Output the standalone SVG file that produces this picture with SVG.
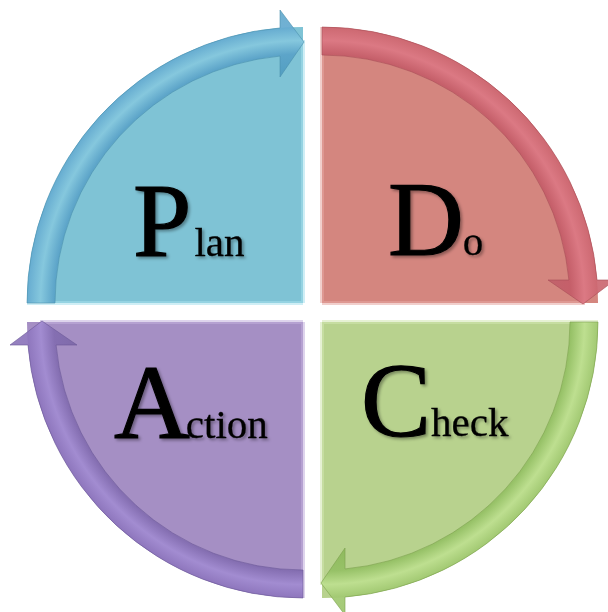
<svg xmlns="http://www.w3.org/2000/svg" width="608" height="612" viewBox="0 0 608 612">
  <style>
    .big { font-family: "Liberation Serif", "Times New Roman", serif; font-size: 105px; fill: #000; stroke: #000; stroke-width: 1.2; }
    .small { font-family: "Liberation Serif", "Times New Roman", serif; font-size: 41px; fill: #000; stroke: #000; stroke-width: 0.3; }
    .lbl { filter: url(#shadow); }
    .band { stroke-width: 1; stroke-opacity: 0.6; }
    .bevel { fill: none; stroke-width: 4; stroke-opacity: 0.55; }
  </style>
  <defs>
    <filter id="shadow" x="-20%" y="-20%" width="140%" height="140%">
      <feDropShadow dx="2" dy="2" stdDeviation="1.6" flood-color="#000" flood-opacity="0.35"/>
    </filter>
    <radialGradient id="gPlan" gradientUnits="userSpaceOnUse" cx="303" cy="303" r="300">
      <stop offset="0.76" stop-color="#4f9cc0"/>
      <stop offset="0.83" stop-color="#5aa2c8"/>
      <stop offset="0.875" stop-color="#86c8de"/>
      <stop offset="0.92" stop-color="#64aad0"/>
      <stop offset="0.99" stop-color="#64aacc"/>
    </radialGradient>
    <radialGradient id="gDo" gradientUnits="userSpaceOnUse" cx="303" cy="303" r="300">
      <stop offset="0.76" stop-color="#c0606a"/>
      <stop offset="0.83" stop-color="#c45c68"/>
      <stop offset="0.875" stop-color="#dc7884"/>
      <stop offset="0.92" stop-color="#cc6670"/>
      <stop offset="0.99" stop-color="#c86a72"/>
    </radialGradient>
    <radialGradient id="gCheck" gradientUnits="userSpaceOnUse" cx="303" cy="303" r="300">
      <stop offset="0.76" stop-color="#8cb85a"/>
      <stop offset="0.83" stop-color="#94c064"/>
      <stop offset="0.875" stop-color="#bee090"/>
      <stop offset="0.92" stop-color="#a0c870"/>
      <stop offset="0.99" stop-color="#9cc46c"/>
    </radialGradient>
    <radialGradient id="gAction" gradientUnits="userSpaceOnUse" cx="303" cy="303" r="300">
      <stop offset="0.76" stop-color="#7c68a8"/>
      <stop offset="0.83" stop-color="#826cb0"/>
      <stop offset="0.875" stop-color="#a28cd2"/>
      <stop offset="0.92" stop-color="#8c74bc"/>
      <stop offset="0.99" stop-color="#8c78b8"/>
    </radialGradient>
    <path id="quad" d="M303,303 L27,303 A276,276 0 0 1 303,27 Z"/>
    <path id="arrow" d="M27,303 A276,276 0 0 1 280,27.96 L280,10 L304,42 L280,77 L280,56.07 A248,248 0 0 0 55,303 Z"/>
  </defs>

  <g id="plan">
    <use href="#quad" fill="#7fc3d5"/>
    <path class="bevel" d="M303,303 L27,303 M303,303 L303,40" stroke="#a8e0ec"/>
  </g>
  <g id="do" transform="rotate(90 312.5 312.5)">
    <use href="#quad" fill="#d4867f"/>
    <path class="bevel" d="M303,303 L27,303 M303,303 L303,40" stroke="#e6a8a2"/>
  </g>
  <g id="check" transform="rotate(180 312.5 312.5)">
    <use href="#quad" fill="#b8d28e"/>
    <path class="bevel" d="M303,303 L27,303 M303,303 L303,40" stroke="#d2e6b0"/>
  </g>
  <g id="action" transform="rotate(270 312.5 312.5)">
    <use href="#quad" fill="#a58fc4"/>
    <path class="bevel" d="M303,303 L27,303 M303,303 L303,40" stroke="#c2b0dc"/>
  </g>

  <g id="connectors">
    <use href="#arrow" class="band" fill="url(#gPlan)" fill-opacity="0.92" stroke="#4a8fae"/>
    <use href="#arrow" class="band" transform="rotate(90 312.5 312.5)" fill="url(#gDo)" fill-opacity="0.92" stroke="#a84c56"/>
    <use href="#arrow" class="band" transform="rotate(180 312.5 312.5)" fill="url(#gCheck)" fill-opacity="0.92" stroke="#7ca04c"/>
    <use href="#arrow" class="band" transform="rotate(270 312.5 312.5)" fill="url(#gAction)" fill-opacity="0.92" stroke="#6a5898"/>
  </g>

  <g id="labels">
    <text class="lbl" x="133" y="256"><tspan class="big">P</tspan><tspan class="small" dx="3">lan</tspan></text>
    <text class="lbl" x="388" y="255"><tspan class="big">D</tspan><tspan class="small" dx="-1">o</tspan></text>
    <text class="lbl" x="361" y="436"><tspan class="big">C</tspan><tspan class="small">heck</tspan></text>
    <text class="lbl" x="114" y="438"><tspan class="big">A</tspan><tspan class="small" dx="-4">ction</tspan></text>
  </g>
</svg>
